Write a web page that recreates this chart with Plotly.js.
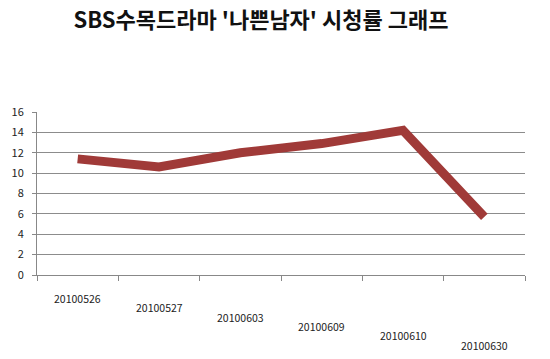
<!DOCTYPE html>
<html>
<head>
<meta charset="utf-8">
<script src="https://cdn.plot.ly/plotly-3.0.1.min.js"></script>
<style>html,body{margin:0;padding:0;background:#fff;}#chart{width:550px;height:359px;}</style>
</head>
<body>
<div id="chart"></div>
<script>
// ---- data ----
const categories = ['20100526', '20100527', '20100603', '20100609', '20100610', '20100630'];
const ratings = [11.4, 10.6, 12.0, 12.9, 14.2, 5.7];
const yTicks = [0, 2, 4, 6, 8, 10, 12, 14, 16];
const chartTitle = "SBS수목드라마 '나쁜남자' 시청률 그래프";

// ---- build ----
const trace = {
  type: 'scatter',
  mode: 'lines',
  x: categories,
  y: ratings,
  line: {color: '#a03a38', width: 9, shape: 'linear'},
  hoverinfo: 'skip'
};

const labelFont = {family: 'Noto Sans CJK KR, Noto Sans, sans-serif', size: 10.5, color: '#222'};
// category labels, staggered downward like the original perspective view
const annotations = categories.map((c, i) => ({
  x: i, xref: 'x', y: 0, yref: 'paper', yanchor: 'top',
  text: c, showarrow: false, xanchor: 'center',
  yshift: -14 - i * 9.3, font: labelFont
}));

const layout = {
  width: 550, height: 359,
  margin: {l: 37, r: 25, t: 112, b: 84},
  paper_bgcolor: '#ffffff',
  plot_bgcolor: '#ffffff',
  showlegend: false,
  title: {
    text: '<b>' + chartTitle + '</b>',
    font: {family: 'Noto Sans CJK KR, sans-serif', size: 22, color: '#111'},
    x: 0.459, xanchor: 'center', xref: 'paper', y: 0.943, yanchor: 'middle', yref: 'container'
  },
  xaxis: {
    type: 'category',
    categoryorder: 'array', categoryarray: categories,
    range: [-0.5, categories.length - 0.5],
    showgrid: false, zeroline: false,
    showline: true, linecolor: '#888', linewidth: 1,
    ticks: 'outside', tickson: 'boundaries', ticklen: 5, tickcolor: '#888',
    showticklabels: false, fixedrange: true
  },
  yaxis: {
    range: [0, 16], tickvals: yTicks, ticktext: yTicks.map(String),
    showgrid: true, gridcolor: '#8c8c8c', gridwidth: 1,
    zeroline: false, showline: true, linecolor: '#888', linewidth: 1,
    ticks: 'outside', ticklen: 4, tickcolor: '#888',
    ticklabelstandoff: 6,
    tickfont: {family: 'Noto Sans CJK KR, Noto Sans, sans-serif', size: 11, color: '#222'},
    fixedrange: true
  },
  annotations: annotations
};

Plotly.newPlot('chart', [trace], layout, {displayModeBar: false, staticPlot: true});
</script>
</body>
</html>
